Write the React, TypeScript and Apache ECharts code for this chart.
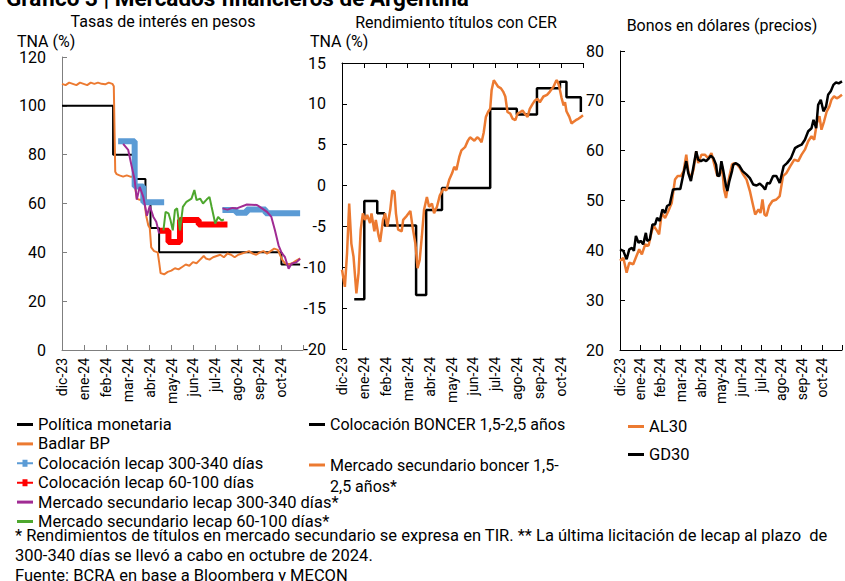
import React, { useEffect, useRef } from 'react';
import * as echarts from 'echarts';

// x values: days counted from 31-dic-2023 (axis runs to 30-nov-2024)
const DAYS = 335;
const monthLabels = ['dic-23', 'ene-24', 'feb-24', 'mar-24', 'abr-24', 'may-24', 'jun-24', 'jul-24', 'ago-24', 'sep-24', 'oct-24'];

// ---- Panel 1: Tasas de interés en pesos ----
const policyDay = [0, 71, 102, 116, 123, 135, 305, 331];
const policyRate = [100, 80, 70, 60, 50, 40, 35, 35];

const badlarDay = [0, 5, 10, 15, 20, 25, 30, 35, 40, 45, 50, 55, 60, 65, 70, 72, 74, 76, 80, 85, 90, 95, 100, 102, 104, 108, 112, 115, 117, 120, 122, 124, 128, 133, 135, 137, 142, 147, 152, 157, 162, 167, 172, 177, 182, 187, 192, 197, 200, 205, 210, 215, 220, 225, 230, 235, 240, 245, 250, 255, 260, 265, 270, 275, 280, 285, 290, 295, 300, 303, 306, 310, 315, 320, 325, 331];
const badlarRate = [109, 108.5, 109.5, 109, 108.5, 109.5, 109, 108.5, 109.5, 109, 109.5, 109, 108.8, 109.5, 109, 108, 73, 72, 71.5, 71, 71.5, 71, 71, 66, 62, 61.5, 61.5, 60, 55, 51, 50, 42, 40.5, 40, 36, 31.5, 31, 32, 32.5, 33.5, 33, 34, 35, 34.5, 36, 35.5, 37, 38.5, 37.5, 37, 38, 38.5, 39, 38, 39.5, 39, 38, 39, 39.5, 40, 40.5, 39.5, 39, 40, 40.5, 39.5, 40.5, 41.5, 41, 39, 37, 35.5, 35, 35.5, 36.5, 37.5];

const lecapLongDay = [78, 101, 113, 141, 142, 223, 242, 257, 283, 331];
const lecapLongRate = [85.5, 67, 60.5, 60.5, null, 57.3, 56.2, 57.5, 56, 56];

const lecapShortDay = [136, 148, 164, 190, 230];
const lecapShortRate = [48.8, 44.2, 53.2, 51.4, 51.4];

const secLongDay = [85, 92, 97, 101, 104, 108, 113, 118, 122, 127, 131, 135, 136, 223, 230, 237, 243, 257, 271, 275, 285, 291, 296, 301, 305, 310, 315, 319, 326, 331];
const secLongRate = [84.4, 82, 75, 69.6, 61.6, 66.8, 62.7, 55, 59, 54.5, 52.5, 47.7, null, 58, 57.5, 58.2, 58, 59.6, 59.4, 58.6, 56.6, 54.5, 49, 42.9, 40, 38, 33.3, 35.3, 36, 37.4];

const secShortDay = [141, 144, 148, 151, 154, 157, 160, 164, 168, 173, 180, 184, 187, 192, 196, 201, 205, 208, 213, 217, 222, 225];
const secShortRate = [49, 56.6, 56, 53, 49, 57.3, 58, 49, 58.6, 60.7, 62, 65.5, 61.4, 62, 60, 61.6, 62.7, 58.6, 51.8, 54.5, 53, 53.5];

// ---- Panel 2: Rendimiento títulos con CER ----
const boncerDay = [17, 31, 49, 59, 103, 117, 139, 206, 243, 271, 303, 312, 332];
const boncerRate = [-13.9, -1.9, -3.4, -4.9, -13.4, -3, -0.3, 9.4, 8.7, 11.9, 12.7, 10.8, 9];

const cerSecDay = [0, 4, 7, 10, 13, 16, 20, 23, 26, 29, 32, 35, 39, 41, 45, 47, 51, 53, 57, 60, 63, 67, 70, 73, 75, 78, 83, 85, 90, 95, 98, 102, 105, 108, 111, 114, 118, 121, 125, 128, 132, 136, 141, 145, 149, 153, 156, 159, 163, 166, 171, 175, 178, 181, 184, 188, 191, 194, 197, 200, 203, 206, 208, 211, 214, 217, 221, 224, 227, 230, 234, 237, 241, 244, 248, 251, 254, 258, 261, 265, 268, 272, 275, 280, 285, 289, 294, 298, 300, 302, 305, 308, 310, 312, 316, 319, 322, 325, 329, 332, 335];
const cerSecRate = [-10.3, -12.4, -8.3, -2.2, -7.1, -8.7, -13.2, -10.7, -5.4, -3.4, -4.2, -3.6, -4.6, -3.4, -5.6, -4.2, -6.2, -6.9, -4.2, -3.4, -5, -3, -0.6, -0.8, -3.4, -5.4, -5.6, -4.2, -3.7, -3.1, -5, -7.1, -10.1, -9.1, -6.2, -3, -1.4, -2.6, -2.2, -3.4, -2.6, -1.2, -0.4, -0.6, 0.7, 1.5, 2.3, 1.9, 3.5, 4.3, 4.7, 5.5, 5.9, 5.7, 5.5, 5.9, 5.7, 5.3, 6.5, 8.4, 9, 9.4, 11.7, 12.9, 12.5, 12.1, 11.9, 11.5, 10.9, 9, 8.8, 8.2, 8, 8.8, 9, 9.2, 8.8, 8.4, 9.4, 10, 10.4, 10.6, 10.2, 10.9, 11.1, 11.5, 12.1, 12.9, 12.7, 12.1, 10.8, 9.8, 10.2, 9.1, 8.4, 7.6, 7.8, 8, 8.2, 8.4, 8.6];

// ---- Panel 3: Bonos en dólares (precios) ----
const gd30Day = [0, 5, 10, 14, 18, 21, 24, 28, 31, 35, 39, 41, 45, 49, 53, 56, 60, 64, 68, 71, 75, 80, 86, 91, 96, 100, 103, 107, 111, 115, 118, 122, 126, 130, 133, 137, 141, 145, 147, 150, 153, 156, 160, 162, 165, 169, 171, 175, 180, 185, 191, 196, 201, 206, 211, 215, 219, 222, 226, 231, 236, 241, 247, 252, 258, 264, 269, 274, 279, 284, 289, 292, 296, 299, 303, 307, 311, 314, 318, 322, 326, 330, 335];
const gd30Price = [40.2, 39.9, 38.2, 40.2, 40.5, 39.9, 42.9, 41.5, 41.9, 41.2, 43.5, 41.9, 42.2, 45.2, 45.2, 46.5, 45.9, 48.2, 47.5, 48.9, 49.2, 52.2, 52.3, 52.3, 55.5, 57.9, 55.5, 53.9, 56.9, 59.9, 58.2, 57.9, 58.2, 57.9, 58.3, 59, 58.5, 57.2, 55, 54.9, 57.9, 55.9, 52.9, 51.9, 53.9, 55.9, 57.2, 57.5, 57, 55.9, 55.2, 54.5, 53.2, 53, 53.4, 52.9, 52.2, 53.5, 53.4, 54.9, 54.9, 53.5, 56.9, 57.5, 58.5, 60.5, 60.9, 61.2, 62.2, 63.9, 64.5, 66.2, 64.5, 69.2, 70.2, 67.9, 68.9, 71.2, 71.9, 73.2, 73.7, 73.5, 73.9];

const al30Day = [0, 5, 10, 14, 20, 25, 29, 33, 38, 43, 48, 51, 56, 59, 63, 68, 73, 78, 83, 87, 92, 96, 100, 103, 107, 111, 115, 118, 123, 128, 133, 138, 143, 147, 151, 154, 157, 160, 164, 169, 172, 177, 181, 186, 191, 196, 200, 204, 209, 212, 215, 218, 221, 225, 230, 236, 241, 246, 251, 257, 263, 269, 274, 279, 284, 289, 293, 297, 301, 304, 308, 312, 316, 319, 323, 327, 331, 335];
const al30Price = [37.9, 38.5, 35.5, 37.5, 37.2, 38.9, 40.2, 39.2, 41.2, 40.9, 43.9, 44.9, 43.9, 43.2, 47.5, 46.5, 47.9, 49.5, 54.2, 54.9, 54.9, 55.9, 59.2, 55.9, 54.5, 56.2, 59.9, 57.5, 59.2, 59.2, 58.5, 59.5, 56.9, 54.9, 55.5, 56.9, 52.2, 50.5, 54.2, 57.2, 57.5, 57.2, 56.5, 55.2, 54.2, 51.9, 49.5, 47.2, 48.2, 47.5, 50.2, 47.2, 46.9, 48.9, 49.9, 50.2, 50.9, 54.9, 55.5, 56.9, 58.2, 57.9, 59.2, 60.2, 61.9, 62.9, 62.2, 65.5, 66.9, 64.2, 65.9, 67.9, 68.9, 70.2, 70.9, 70.5, 70.8, 71.2];

const FONT = 'Roboto';
const LINE_ICON = 'path://M0,0 L16,0 L16,3 L0,3 Z';
const MARK_ICON = 'path://M0,3 L5.5,3 L5.5,0.5 L10.5,0.5 L10.5,3 L16,3 L16,5 L10.5,5 L10.5,7.5 L5.5,7.5 L5.5,5 L0,5 Z';

const pairs = (xs: number[], ys: (number | null)[]) => xs.map((x, i) => [x, ys[i]]);

const monthFormatter = (v: number) => {
  const i = Math.round(v / (DAYS / 11));
  return monthLabels[i] ?? '';
};

const xAxisFor = (gridIndex: number, color: string, extra: any = {}) => ({
  type: 'value',
  gridIndex,
  min: 0,
  max: DAYS,
  interval: DAYS / 11,
  axisLine: { show: true, onZero: false, lineStyle: { color, width: 1 } },
  axisTick: { show: true, inside: true, length: 5, lineStyle: { color } },
  axisLabel: { rotate: 90, formatter: monthFormatter, fontSize: 14, fontFamily: FONT, color: '#000', margin: 8 },
  splitLine: { show: false },
  ...extra,
});

const yAxisFor = (gridIndex: number, min: number, max: number, interval: number, color: string) => ({
  type: 'value',
  gridIndex,
  min,
  max,
  interval,
  axisLine: { show: true, lineStyle: { color, width: 1 } },
  axisTick: { show: true, inside: true, length: 5, lineStyle: { color } },
  axisLabel: { fontSize: 16, fontFamily: FONT, color: '#000', margin: 16 },
  splitLine: { show: false },
});

const lineSeries = (name: string, xi: number, yi: number, data: any[], color: string, width: number, step?: string) => ({
  name,
  type: 'line',
  xAxisIndex: xi,
  yAxisIndex: yi,
  data,
  step: step || false,
  symbol: 'none',
  connectNulls: false,
  lineStyle: { color, width },
  itemStyle: { color },
  emphasis: { disabled: true },
});

const C_BLACK = '#000000';
const C_ORANGE = '#EC7A31';
const C_BLUE = '#5B9BD5';
const C_RED = '#FF0000';
const C_PURPLE = '#A02B93';
const C_GREEN = '#4EA72E';

const N_POL = 'Política monetaria';
const N_BAD = 'Badlar BP';
const N_LL = 'Colocación lecap 300-340 días';
const N_LS = 'Colocación lecap 60-100 días';
const N_SL = 'Mercado secundario lecap 300-340 días*';
const N_SS = 'Mercado secundario lecap 60-100 días*';
const N_BC = 'Colocación BONCER 1,5-2,5 años';
const N_BS = 'Mercado secundario boncer 1,5-\n2,5 años*';
const N_AL = 'AL30';
const N_GD = 'GD30';

const legendText = { fontSize: 16.5, fontFamily: FONT, color: '#000', lineHeight: 15 };

const option: any = {
  animation: false,
  grid: [
    { left: 62, top: 57, width: 241, height: 293 },
    { left: 342, top: 63, width: 241, height: 286 },
    { left: 620, top: 51, width: 222, height: 299 },
  ],
  xAxis: [
    xAxisFor(0, '#7f7f7f'),
    xAxisFor(1, '#000', { axisLine: { show: false }, axisTick: { show: false } }),
    xAxisFor(1, '#000', {
      axisLine: { show: true, onZero: true, lineStyle: { color: '#000', width: 1 } },
      axisLabel: { show: false },
    }),
    xAxisFor(2, '#000'),
  ],
  yAxis: [
    yAxisFor(0, 0, 120, 20, '#7f7f7f'),
    yAxisFor(1, -20, 15, 5, '#000'),
    yAxisFor(2, 20, 80, 10, '#000'),
  ],
  legend: [
    {
      left: 17, top: 416, orient: 'vertical', itemWidth: 16, itemHeight: 14, itemGap: 2.4, padding: 0,
      selectedMode: false, textStyle: legendText,
      data: [
        { name: N_POL, icon: LINE_ICON },
        { name: N_BAD, icon: LINE_ICON },
        { name: N_LL, icon: MARK_ICON },
        { name: N_LS, icon: MARK_ICON },
        { name: N_SL, icon: LINE_ICON },
        { name: N_SS, icon: LINE_ICON },
      ],
    },
    {
      left: 309, top: 416.5, orient: 'vertical', itemWidth: 16, itemHeight: 14, padding: 0,
      selectedMode: false, textStyle: { ...legendText, fontSize: 16 },
      data: [{ name: N_BC, icon: LINE_ICON }],
    },
    {
      left: 309, top: 433.5, orient: 'vertical', itemWidth: 16, itemHeight: 14, padding: 0,
      selectedMode: false, formatter: '\n{name}', textStyle: { ...legendText, fontSize: 16, lineHeight: 21 },
      data: [{ name: N_BS, icon: LINE_ICON }],
    },
    {
      left: 628, top: 418, orient: 'vertical', itemWidth: 16, itemHeight: 14, itemGap: 11, padding: 0,
      selectedMode: false, textStyle: legendText,
      data: [
        { name: N_AL, icon: LINE_ICON },
        { name: N_GD, icon: LINE_ICON },
      ],
    },
  ],
  graphic: [
    { type: 'text', left: 6, top: -13.5, style: { text: 'Gráfico 3 | Mercados financieros de Argentina', fontSize: 22.5, fontWeight: 'bold', fontFamily: FONT, fill: '#000' } },
    { type: 'text', x: 163, y: 21, style: { text: 'Tasas de interés en pesos', fontSize: 16, fontFamily: FONT, fill: '#000', align: 'center', verticalAlign: 'middle' } },
    { type: 'text', x: 456, y: 22, style: { text: 'Rendimiento títulos con CER', fontSize: 16, fontFamily: FONT, fill: '#000', align: 'center', verticalAlign: 'middle' } },
    { type: 'text', x: 722, y: 25, style: { text: 'Bonos en dólares (precios)', fontSize: 16, fontFamily: FONT, fill: '#000', align: 'center', verticalAlign: 'middle' } },
    { type: 'text', x: 17, y: 41, style: { text: 'TNA (%)', fontSize: 16, fontFamily: FONT, fill: '#000', verticalAlign: 'middle' } },
    { type: 'text', x: 310, y: 41, style: { text: 'TNA (%)', fontSize: 16, fontFamily: FONT, fill: '#000', verticalAlign: 'middle' } },
    {
      type: 'text', x: 15, y: 525,
      style: {
        text: '* Rendimientos de títulos en mercado secundario se expresa en TIR. ** La última licitación de lecap al plazo  de\n300-340 días se llevó a cabo en octubre de 2024.\nFuente: BCRA en base a Bloomberg y MECON',
        fontSize: 16.5, lineHeight: 20, fontFamily: FONT, fill: '#000',
      },
    },
  ],
  series: [
    lineSeries(N_POL, 0, 0, pairs(policyDay, policyRate), C_BLACK, 2, 'end'),
    lineSeries(N_BAD, 0, 0, pairs(badlarDay, badlarRate), C_ORANGE, 2),
    lineSeries(N_LL, 0, 0, pairs(lecapLongDay, lecapLongRate), C_BLUE, 6, 'end'),
    lineSeries(N_LS, 0, 0, pairs(lecapShortDay, lecapShortRate), C_RED, 6, 'end'),
    lineSeries(N_SL, 0, 0, pairs(secLongDay, secLongRate), C_PURPLE, 2),
    lineSeries(N_SS, 0, 0, pairs(secShortDay, secShortRate), C_GREEN, 2),
    lineSeries(N_BC, 1, 1, pairs(boncerDay, boncerRate), C_BLACK, 2.5, 'end'),
    lineSeries(N_BS, 1, 1, pairs(cerSecDay, cerSecRate), C_ORANGE, 2.5),
    lineSeries(N_AL, 3, 2, pairs(al30Day, al30Price), C_ORANGE, 2.5),
    lineSeries(N_GD, 3, 2, pairs(gd30Day, gd30Price), C_BLACK, 2.5),
  ],
};

export default function App() {
  const ref = useRef<HTMLDivElement>(null);
  useEffect(() => {
    if (!ref.current) return;
    const chart = echarts.init(ref.current, null, { renderer: 'svg' });
    chart.setOption(option);
    return () => chart.dispose();
  }, []);
  return (
    <div
      ref={ref}
      style={{ position: 'absolute', left: 0, top: 0, width: 845, height: 581, background: '#fff' }}
    />
  );
}
